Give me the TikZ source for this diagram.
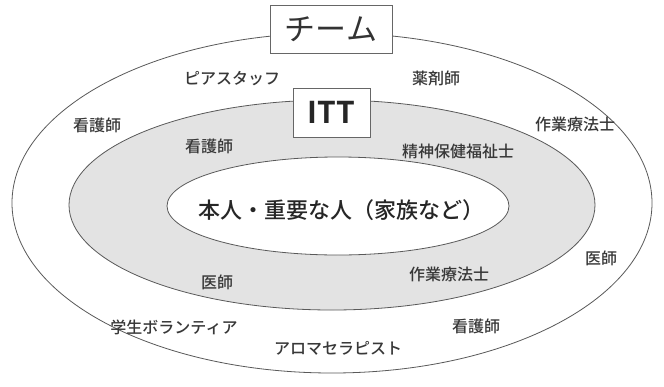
\documentclass[tikz,border=0pt]{standalone}
\usepackage{fontspec}
\setmainfont{Noto Sans CJK JP}[BoldFont={* Bold}]
\newfontfamily\medfont{Noto Sans CJK JP Medium}
\begin{document}
\begin{tikzpicture}[x=1pt,y=-1pt,
  ring/.style={draw=black!65, line width=0.8pt},
  lbl/.style={font=\medfont\fontsize{16}{18}\selectfont, text=black!78, inner sep=0pt},
  titlebox/.style={draw=black!60, line width=0.8pt, fill=white, inner sep=0pt}]
\useasboundingbox (0,0) rectangle (664,386);
\fill[white] (0,0) rectangle (664,386);
% rings
\draw[ring] (332,203) ellipse [x radius=320pt, y radius=170pt];
\fill[black!11] (332,205) ellipse [x radius=263pt, y radius=105pt];
\draw[ring] (332,205) ellipse [x radius=263pt, y radius=105pt];
\filldraw[ring, fill=white] (338,206) ellipse [x radius=171pt, y radius=49pt];
% title boxes
\node[titlebox, minimum width=122pt, minimum height=48pt, font=\fontsize{31}{33}\selectfont, text=black!80] (team) at (331,29) {チーム};
\node[titlebox, minimum width=77pt, minimum height=49pt, font=\bfseries\fontsize{30}{32}\selectfont, text=black!85] (itt) at (331.5,112.5) {ITT};
% center
\node[font=\medfont\fontsize{22}{24}\selectfont, text=black!85, inner sep=0pt] (honnin) at (341,210) {本人・重要な人（家族など）};
% outer labels
\node[lbl] (peer) at (232,79) {ピアスタッフ};
\node[lbl] (yaku) at (436,78) {薬剤師};
\node[lbl] (kango1) at (97,125) {看護師};
\node[lbl] (sagyo1) at (575,124) {作業療法士};
\node[lbl] (ishi1) at (601,258) {医師};
\node[lbl] (gakusei) at (174,327) {学生ボランティア};
\node[lbl] (kango3) at (476,326) {看護師};
\node[lbl] (aroma) at (338,348) {アロマセラピスト};
% ITT labels
\node[lbl] (kango2) at (209,146) {看護師};
\node[lbl] (seishin) at (458,151) {精神保健福祉士};
\node[lbl] (ishi2) at (217,282) {医師};
\node[lbl] (sagyo2) at (449,274) {作業療法士};
\end{tikzpicture}
\end{document}
